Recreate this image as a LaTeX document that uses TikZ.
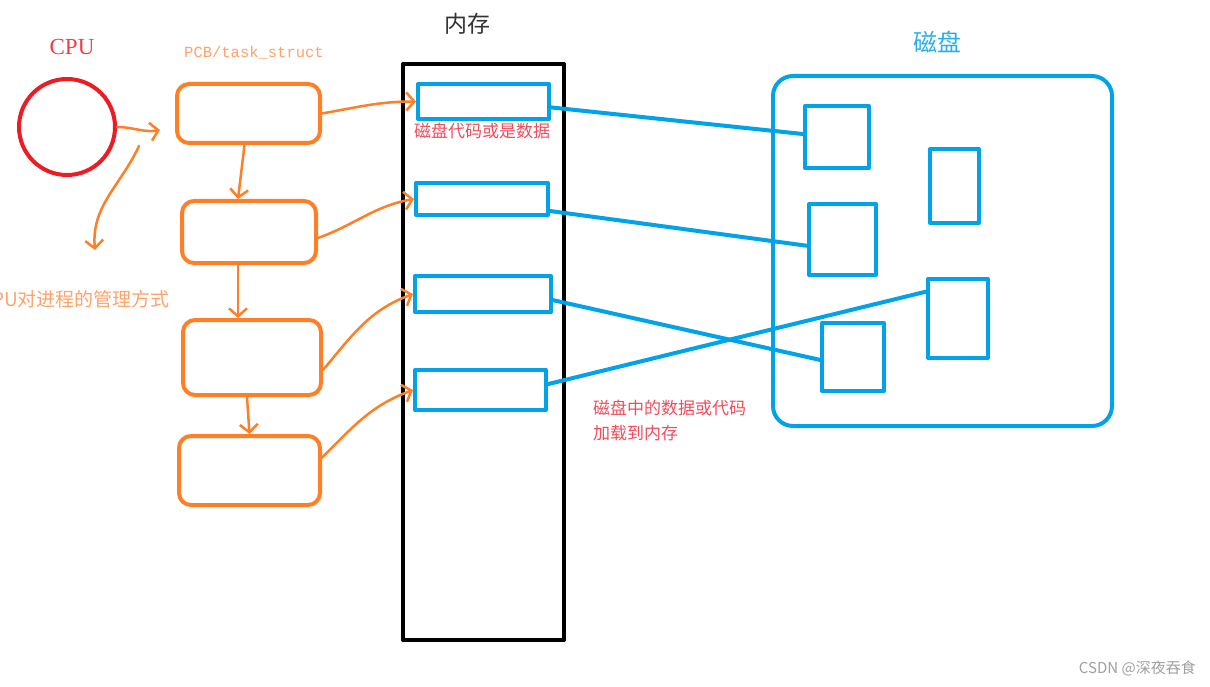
\documentclass[tikz,border=0pt]{standalone}
\usepackage{fontspec}
\usetikzlibrary{arrows.meta}
\newfontfamily\cjk{Noto Sans CJK SC}
\newfontfamily\cpufont{Liberation Serif}
\newfontfamily\pcbfont{Liberation Mono}
\definecolor{pcborange}{HTML}{FF7F27}
\definecolor{lightorange}{HTML}{FFA36A}
\definecolor{cpured}{HTML}{ED1C24}
\definecolor{notered}{HTML}{F04C5C}
\definecolor{diskblue}{HTML}{00A2E8}
\definecolor{marktext}{HTML}{A0A0A0}

\begin{document}
\begin{tikzpicture}[x=1pt,y=-1pt,line join=round,line cap=round,
  pcbbox/.style={draw=pcborange,line width=4pt,rounded corners=12pt,inner sep=0},
  membox/.style={draw=diskblue,line width=4pt,inner sep=0},
  link/.style={draw=diskblue,line width=4pt},
  hand/.style={draw=pcborange,line width=2.5pt,-{Straight Barb[length=8pt,width=18pt]}},
  note/.style={text=notered,inner sep=0,font=\cjk\fontsize{17}{25}\selectfont}]
\useasboundingbox[fill=white] (0,0) rectangle (1210,687);
% cpu
\node[text=cpured!85,font=\cpufont\fontsize{23}{23}\selectfont] (cputxt) at (72,47) {CPU};
\node[circle,draw=cpured,line width=4pt,minimum size=96pt] (cpu) at (67,127) {};
\node[text=lightorange,font=\pcbfont\fontsize{15.5}{15.5}\selectfont] (pcbtxt) at (254,53) {PCB/task\_struct};
\node[anchor=east,inner sep=0,text=lightorange,font=\cjk\fontsize{19}{19}\selectfont] (cputip) at (170,299) {CPU对进程的管理方式};
\coordinate (cpuhead) at (160,130);
\coordinate (tipstart) at (139,146);
\coordinate (tiphead) at (95,250);
% pcb list
\foreach \n/\x/\y/\w/\h in {1/248.5/113.5/143/59, 2/249/232/134/62, 3/252/357.5/138/75, 4/249.5/470.5/141/69} {
  \node[pcbbox,minimum width=\w pt,minimum height=\h pt] (p\n) at (\x,\y) {};
}
% memory
\node[text=black!80,font=\cjk\fontsize{23}{23}\selectfont] (memtxt) at (467,24) {内存};
\node[draw,line width=4pt,minimum width=161pt,minimum height=576pt,inner sep=0] (mem) at (483.5,352) {};
\foreach \n/\x/\y/\w/\h in {1/483.5/101.5/131/35, 2/482/199/132/32, 3/483/294/136/36, 4/480.5/390/131/40} {
  \node[membox,minimum width=\w pt,minimum height=\h pt] (m\n) at (\x,\y) {};
}
\node[note,anchor=west] (memnote) at (414,131) {磁盘代码或是数据};
% disk
\node[text=diskblue!85,font=\cjk\fontsize{24}{24}\selectfont] (disktxt) at (937,42) {磁盘};
\node[membox,rounded corners=20pt,minimum width=339pt,minimum height=350pt] (disk) at (942.5,251) {};
\foreach \n/\x/\y/\w/\h in {1/837/137/64/62, 2/954.5/186/49/74, 3/842.5/239.5/67/71, 4/958/318.5/60/79, 5/853/357/62/68} {
  \node[membox,minimum width=\w pt,minimum height=\h pt] (d\n) at (\x,\y) {};
}
\node[note,anchor=north west,align=left] (disknote) at (593,400) {磁盘中的数据或代码\\加载到内存};
\node[anchor=east,inner sep=0,text=marktext,font=\cjk\fontsize{15}{15}\selectfont] (mark) at (1196,668) {CSDN @深夜吞食};
% arrows
\draw[hand] (cpu.east) to[out=0,in=190] (cpuhead);
\draw[hand] (tipstart) to[out=-115,in=95] (tiphead);
\draw[hand] ([xshift=-4pt]p1.south) -- ([xshift=-11pt]p2.north);
\draw[hand] ([xshift=-11pt]p2.south) -- ([xshift=-14pt]p3.north);
\draw[hand] ([xshift=-5pt]p3.south) -- (p4.north);
\draw[hand] (p1.east) to[out=10,in=180] (m1.west);
\draw[hand] (p2.-5) to[out=20,in=190] (m2.west);
\draw[hand] (p3.-10) to[out=50,in=200] (m3.west);
\draw[hand] (p4.10) to[out=45,in=200] (m4.west);
\draw[link] (m1.-5) -- (d1.175);
\draw[link] (m2.-10) -- (d3.190);
\draw[link] (m3.-5) -- (d5.185);
\draw[link] (m4.5) -- (d4.140);
\end{tikzpicture}
\end{document}
